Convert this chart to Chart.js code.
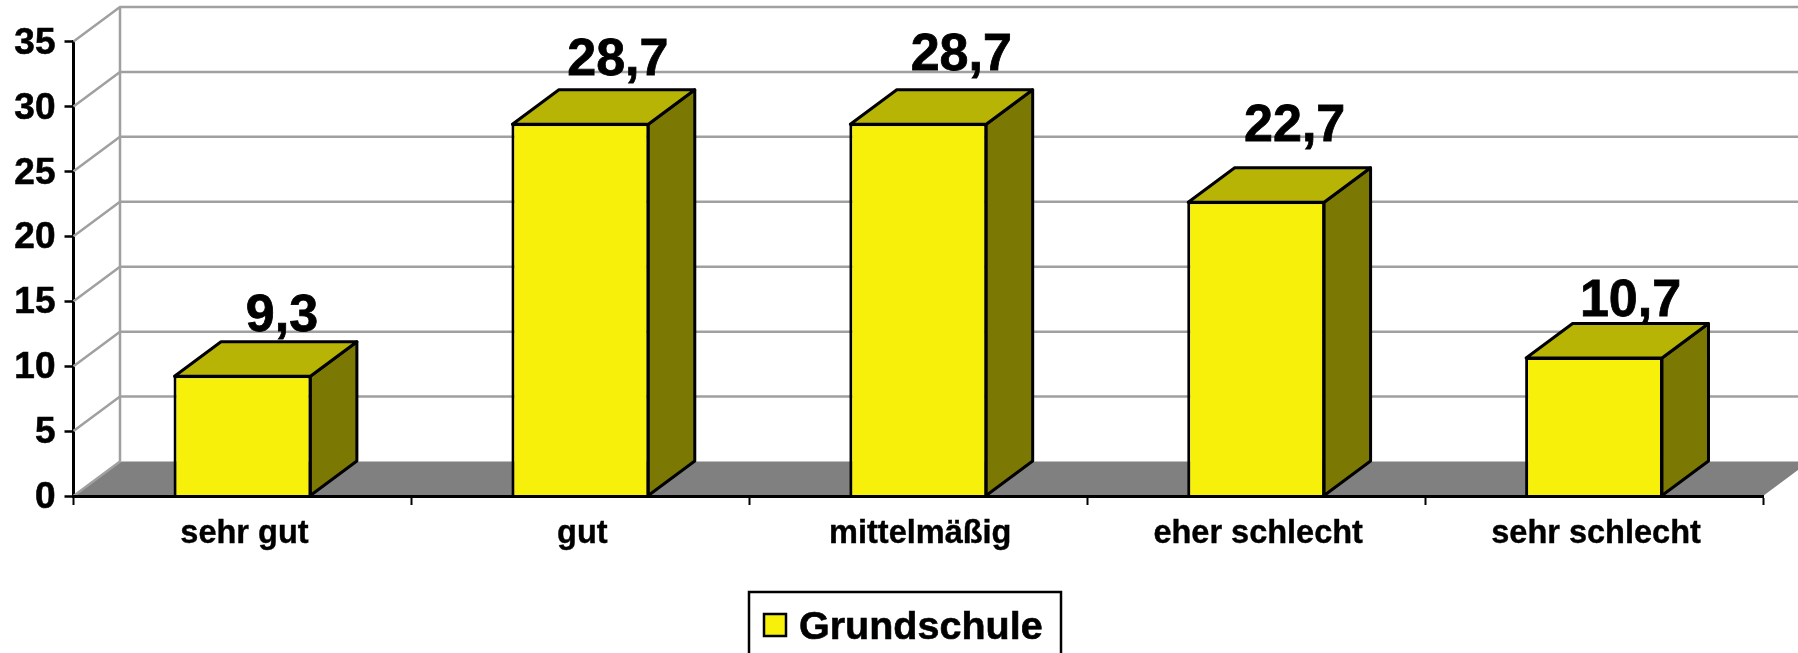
<!DOCTYPE html>
<html lang="de">
<head>
<meta charset="utf-8">
<title>Grundschule</title>
<script src="https://cdn.jsdelivr.net/npm/chart.js@4"></script>
<style>
    html, body { margin: 0; padding: 0; background: #fff; overflow: hidden; }
    canvas { display: block; }
</style>
</head>
<body>
<canvas id="barChart" width="1798" height="653"></canvas>
<script>
const categories = ['sehr gut', 'gut', 'mittelmäßig', 'eher schlecht', 'sehr schlecht'];
const grundschule = [9.3, 28.7, 28.7, 22.7, 10.7];
const seriesName = 'Grundschule';
const yTicks = [0, 5, 10, 15, 20, 25, 30, 35];

const FONT = '"Liberation Sans", Arial, sans-serif';
// décalage de la perspective "3D"
const DX = 46.5;
const DY = 34.5;
const GRID = '#a0a0a0';
const FRONT = '#f7f00a';
const TOP = '#b8b406';
const SIDE = '#7c7804';
// les étiquettes ne sont pas placées pareil sur chaque barre
const labelDx = [39.5, 37.5, 43, 38.5, 36.5];
const labelDy = [-44, -48.5, -53.5, -60.5, -41];

function polygon(ctx, pts, fill, stroke, lineWidth) {
    ctx.beginPath();
    ctx.moveTo(pts[0][0], pts[0][1]);
    pts.slice(1).forEach(p => ctx.lineTo(p[0], p[1]));
    ctx.closePath();
    ctx.fillStyle = fill;
    ctx.fill();
    if (stroke) {
        ctx.strokeStyle = stroke;
        ctx.lineWidth = lineWidth;
        ctx.lineJoin = 'round';
        ctx.stroke();
    }
}

// murs, sol et lignes de la grille
const wallPlugin = {
    id: 'wall',
    beforeDatasetsDraw(chart) {
        const { ctx, scales: { x, y }, width } = chart;
        const left = x.left;
        const right = x.right;
        const bottom = y.getPixelForValue(0);
        ctx.save();
        polygon(ctx, [[left, bottom], [left + DX, bottom - DY], [right + DX, bottom - DY], [right, bottom]], '#808080');
        ctx.strokeStyle = GRID;
        ctx.lineWidth = 2.5;
        yTicks.forEach(t => {
            const py = y.getPixelForValue(t);
            ctx.beginPath();
            ctx.moveTo(left, py);
            ctx.lineTo(left + DX, py - DY);
            if (t > 0) ctx.lineTo(width, py - DY);
            ctx.stroke();
        });
        ctx.beginPath();
        ctx.moveTo(left + DX, y.getPixelForValue(35) - DY);
        ctx.lineTo(left + DX, bottom - DY);
        ctx.stroke();
        ctx.restore();

        // faces du dessus et de côté des barres
        ctx.save();
        chart.getDatasetMeta(0).data.forEach(bar => {
            const x0 = bar.x - bar.width / 2 + 1;
            const x1 = bar.x + bar.width / 2 - 1;
            const yTop = bar.y + 1;
            const yBase = bar.base;
            polygon(ctx, [[x1, yTop], [x1 + DX, yTop - DY], [x1 + DX, yBase - DY], [x1, yBase]], SIDE, '#000', 3);
            polygon(ctx, [[x0, yTop], [x0 + DX, yTop - DY], [x1 + DX, yTop - DY], [x1, yTop]], TOP, '#000', 3);
        });
        ctx.restore();
    }
};

// valeurs au-dessus des barres
const valuePlugin = {
    id: 'values',
    afterDatasetsDraw(chart) {
        const ctx = chart.ctx;
        ctx.save();
        ctx.font = 'bold 52px ' + FONT;
        ctx.fillStyle = '#000';
        ctx.strokeStyle = '#000';
        ctx.lineWidth = 0.8;
        ctx.textAlign = 'center';
        ctx.textBaseline = 'alphabetic';
        chart.getDatasetMeta(0).data.forEach((bar, i) => {
            const label = String(grundschule[i]).replace('.', ',');
            ctx.fillText(label, bar.x + labelDx[i], bar.y + labelDy[i]);
            ctx.strokeText(label, bar.x + labelDx[i], bar.y + labelDy[i]);
        });
        ctx.restore();
    }
};

// légende encadrée, coupée par le bas de l'image
const legendPlugin = {
    id: 'boxLegend',
    afterDraw(chart) {
        const ctx = chart.ctx;
        ctx.save();
        ctx.fillStyle = '#fff';
        ctx.strokeStyle = '#000';
        ctx.lineWidth = 2.5;
        ctx.fillRect(749, 592, 312, 70);
        ctx.strokeRect(749, 592, 312, 70);
        ctx.fillStyle = chart.data.datasets[0].backgroundColor;
        ctx.fillRect(764, 614, 22, 22);
        ctx.strokeRect(764, 614, 22, 22);
        ctx.fillStyle = '#000';
        ctx.font = 'bold 39.5px ' + FONT;
        ctx.textAlign = 'left';
        ctx.textBaseline = 'alphabetic';
        ctx.fillText(chart.data.datasets[0].label, 799, 639);
        ctx.strokeStyle = '#000';
        ctx.lineWidth = 0.6;
        ctx.strokeText(chart.data.datasets[0].label, 799, 639);
        ctx.restore();
    }
};

new Chart(document.getElementById('barChart').getContext('2d'), {
    type: 'bar',
    data: {
        labels: categories,
        datasets: [{
            label: seriesName,
            data: grundschule,
            backgroundColor: FRONT,
            borderColor: '#000',
            borderWidth: 3,
            borderSkipped: 'bottom',
            barPercentage: 0.408,
            categoryPercentage: 1
        }]
    },
    options: {
        responsive: false,
        animation: false,
        layout: { padding: { top: 41.5, right: 35, left: 0, bottom: 0 } },
        plugins: {
            legend: { display: false },
            tooltip: { enabled: false }
        },
        scales: {
            x: {
                afterFit(scale) { scale.height = 157; },
                grid: {
                    drawOnChartArea: false,
                    drawTicks: true,
                    tickLength: 9,
                    tickColor: '#000',
                    tickWidth: 2,
                    z: 1
                },
                border: { color: '#000', width: 3, z: 1 },
                ticks: {
                    color: '#000',
                    padding: 10,
                    labelOffset: 2,
                    maxRotation: 0,
                    textStrokeColor: '#000',
                    textStrokeWidth: 0.4,
                    font: { family: FONT, size: 32.5, weight: 'bold' }
                }
            },
            y: {
                min: 0,
                max: 35,
                afterFit(scale) { scale.width = 73.5; },
                afterBuildTicks(scale) { scale.ticks = yTicks.map(v => ({ value: v })); },
                grid: {
                    drawOnChartArea: false,
                    drawTicks: true,
                    tickLength: 9,
                    tickColor: '#000',
                    tickWidth: 2.5
                },
                border: { color: '#000', width: 3 },
                ticks: {
                    color: '#000',
                    padding: 9,
                    labelOffset: 2,
                    textStrokeColor: '#000',
                    textStrokeWidth: 0.6,
                    font: { family: FONT, size: 37, weight: 'bold' }
                }
            }
        }
    },
    plugins: [wallPlugin, valuePlugin, legendPlugin]
});
</script>
</body>
</html>
